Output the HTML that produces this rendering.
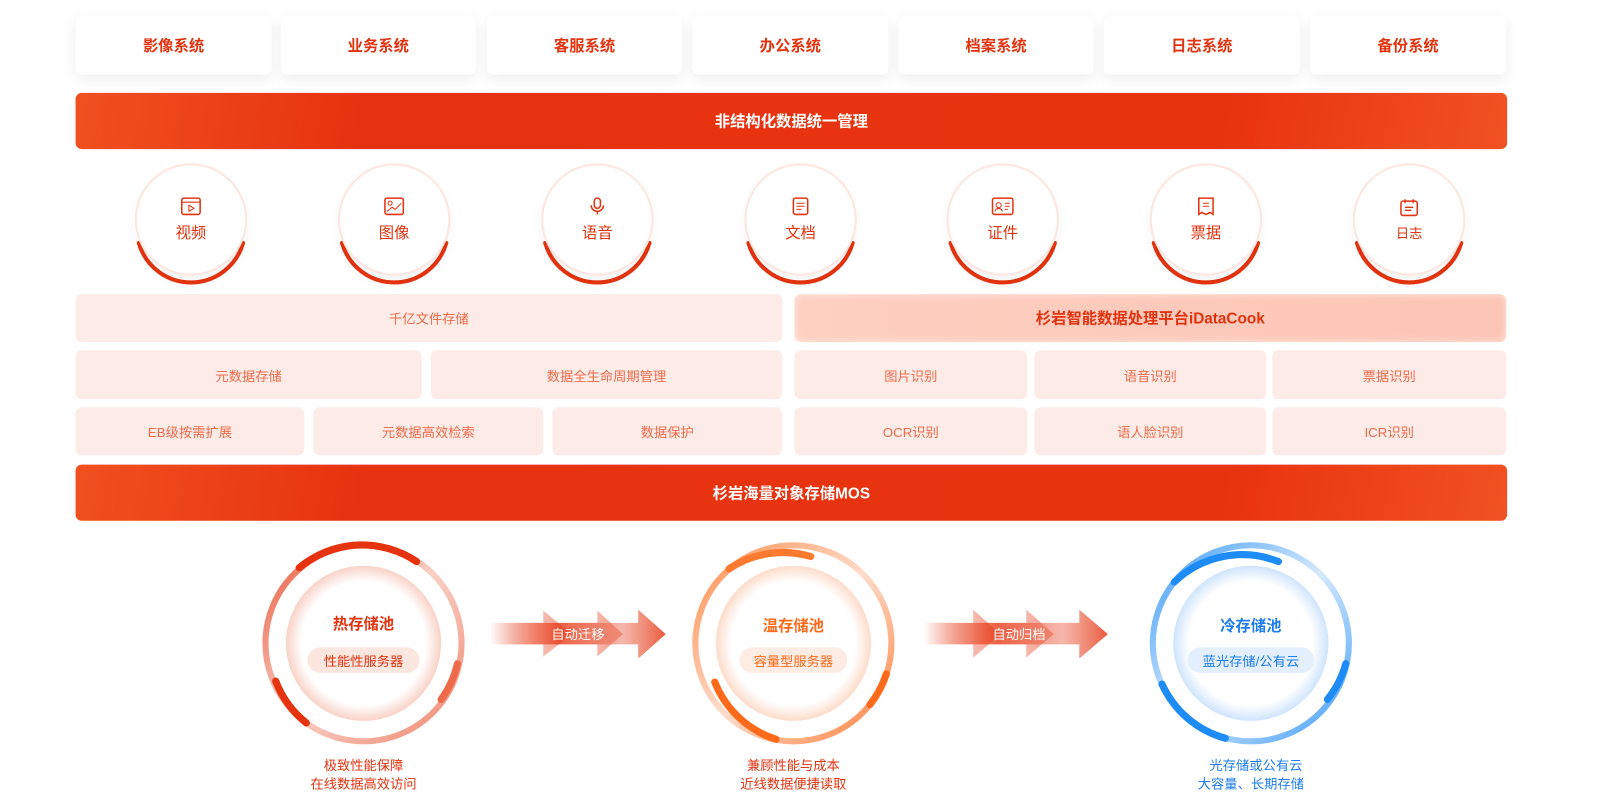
<!DOCTYPE html>
<html><head><meta charset="utf-8"><style>
*{margin:0;padding:0;box-sizing:border-box}
body{width:1601px;height:801px;background:#fff;position:relative;overflow:hidden;font-family:"Liberation Sans","Noto Sans CJK SC",sans-serif}
#w{position:absolute;left:0;top:0;width:1568px;height:785px;transform:scale(1.0211);transform-origin:0 0}
.a{position:absolute;display:flex;align-items:center;justify-content:center}
.top{top:16px;height:57px;background:#fff;border-radius:6px;box-shadow:0 4px 14px rgba(0,0,0,.07);color:#e2330f;font-size:15px;font-weight:bold}
.bar{left:74px;width:1402px;border-radius:6px;background:linear-gradient(100deg,#f0501f 0%,#e6330f 20%,#e8330f 80%,#f05222 100%);color:#fff;font-size:15px;font-weight:bold}
.c{width:106px;height:106px;border-radius:50%;background:#fff;box-shadow:0 0 0 2px #fde6df,0 6px 14px rgba(0,0,0,.06);flex-direction:column;color:#e2330f;font-size:15px;overflow:visible}
.p{background:#fcebe7;border-radius:6px;color:#f06b4a;font-size:13px}
</style></head><body><div id="w">
<div class="a top" style="left:74px;width:192px">影像系统</div>
<div class="a top" style="left:275px;width:191px">业务系统</div>
<div class="a top" style="left:477px;width:191px">客服系统</div>
<div class="a top" style="left:678px;width:192px">办公系统</div>
<div class="a top" style="left:880px;width:191px">档案系统</div>
<div class="a top" style="left:1081px;width:192px">日志系统</div>
<div class="a top" style="left:1283px;width:192px">备份系统</div>
<div class="a bar" style="top:91px;height:55px">非结构化数据统一管理</div>

<svg style="position:absolute;left:0;top:0" width="1568" height="785">
<g fill="none" stroke="#e6330f" stroke-width="4" stroke-linecap="round">
<path d="M136 238 A53 53 0 0 0 238 238"/><path d="M335 238 A53 53 0 0 0 437 238"/><path d="M534 238 A53 53 0 0 0 636 238"/><path d="M733 238 A53 53 0 0 0 835 238"/><path d="M931 238 A53 53 0 0 0 1033 238"/><path d="M1130 238 A53 53 0 0 0 1232 238"/><path d="M1329 238 A53 53 0 0 0 1431 238"/>
</g></svg>
<div class="a c" style="left:134px;top:162px"><svg width="20" height="18"><rect x="1" y="1" width="18" height="16" rx="2" fill="none" stroke="#e2330f" stroke-width="1.5"/><line x1="1" y1="5" x2="19" y2="5" stroke="#e2330f"/><path d="M8 8 L13 11 L8 14Z" fill="none" stroke="#e2330f"/></svg><div style="margin-top:6px">视频</div></div>
<div class="a c" style="left:333px;top:162px"><svg width="20" height="18"><rect x="1" y="1" width="18" height="16" rx="2" fill="none" stroke="#e2330f" stroke-width="1.5"/><circle cx="6" cy="6" r="2" fill="none" stroke="#e2330f"/><path d="M3 14 L8 10 L11 12 L17 6" fill="none" stroke="#e2330f"/></svg><div style="margin-top:6px">图像</div></div>
<div class="a c" style="left:532px;top:162px"><svg width="20" height="18"><rect x="7" y="1" width="6" height="10" rx="3" fill="none" stroke="#e2330f" stroke-width="1.5"/><path d="M4 8 A6 6 0 0 0 16 8 M10 14 V17" fill="none" stroke="#e2330f" stroke-width="1.5"/></svg><div style="margin-top:6px">语音</div></div>
<div class="a c" style="left:731px;top:162px"><svg width="20" height="18"><rect x="3" y="1" width="14" height="16" rx="2" fill="none" stroke="#e2330f" stroke-width="1.5"/><path d="M6 6H14M6 9H14M6 12H11" stroke="#e2330f"/></svg><div style="margin-top:6px">文档</div></div>
<div class="a c" style="left:929px;top:162px"><svg width="22" height="18"><rect x="1" y="1" width="20" height="16" rx="2" fill="none" stroke="#e2330f" stroke-width="1.5"/><circle cx="7" cy="8" r="2.5" fill="none" stroke="#e2330f"/><path d="M3.5 14 A3.5 3 0 0 1 10.5 14 M13 6H18M13 9H18M13 12H16" fill="none" stroke="#e2330f"/></svg><div style="margin-top:6px">证件</div></div>
<div class="a c" style="left:1128px;top:162px"><svg width="20" height="18"><path d="M3 1H17V17L14 15L10 17L6 15L3 17Z" fill="none" stroke="#e2330f" stroke-width="1.5"/><path d="M7 6H13M7 9H13" stroke="#e2330f"/></svg><div style="margin-top:6px">票据</div></div>
<div class="a c" style="left:1327px;top:162px;font-size:13px"><svg width="20" height="18"><rect x="2" y="3" width="16" height="14" rx="2" fill="none" stroke="#e2330f" stroke-width="1.5"/><path d="M6 1V5M14 1V5M6 9H14M6 12H12" stroke="#e2330f" stroke-width="1.3"/></svg><div style="margin-top:6px">日志</div></div>

<div class="a p" style="left:74px;top:288px;width:692px;height:47px">千亿文件存储</div>
<div class="a p" style="left:778px;top:288px;width:697px;height:47px;background:linear-gradient(90deg,#fdd0c2,#fcc5b5);color:#e2330f;font-size:15px;font-weight:bold;box-shadow:inset 0 0 8px rgba(255,255,255,.6)">杉岩智能数据处理平台iDataCook</div>
<div class="a p" style="left:74px;top:343px;width:339px;height:48px">元数据存储</div>
<div class="a p" style="left:422px;top:343px;width:344px;height:48px">数据全生命周期管理</div>
<div class="a p" style="left:74px;top:399px;width:224px;height:47px">EB级按需扩展</div>
<div class="a p" style="left:307px;top:399px;width:225px;height:47px">元数据高效检索</div>
<div class="a p" style="left:541px;top:399px;width:225px;height:47px">数据保护</div>
<div class="a p" style="left:778px;top:343px;width:228px;height:48px">图片识别</div>
<div class="a p" style="left:1013px;top:343px;width:227px;height:48px">语音识别</div>
<div class="a p" style="left:1246px;top:343px;width:229px;height:48px">票据识别</div>
<div class="a p" style="left:778px;top:399px;width:228px;height:47px">OCR识别</div>
<div class="a p" style="left:1013px;top:399px;width:227px;height:47px">语人脸识别</div>
<div class="a p" style="left:1246px;top:399px;width:229px;height:47px">ICR识别</div>
<div class="a bar" style="top:455px;height:55px">杉岩海量对象存储MOS</div>

<svg style="position:absolute;left:0;top:0" width="1568" height="785">
<defs>
<linearGradient id="gh" x1="0" y1="0" x2="1" y2="1"><stop offset="0" stop-color="#e6330f"/><stop offset=".5" stop-color="#f7c4b7"/><stop offset="1" stop-color="#ec6a4d"/></linearGradient>
<linearGradient id="gw" x1="0" y1="0" x2="1" y2="1"><stop offset="0" stop-color="#ff7a2e"/><stop offset=".5" stop-color="#ffd6c2"/><stop offset="1" stop-color="#ff6a1a"/></linearGradient>
<linearGradient id="gc" x1="0" y1="0" x2="1" y2="1"><stop offset="0" stop-color="#1e8cf7"/><stop offset=".5" stop-color="#cfe5fd"/><stop offset="1" stop-color="#1e8cf7"/></linearGradient>
<radialGradient id="ih"><stop offset=".8" stop-color="#fff"/><stop offset="1" stop-color="#f9d2c7"/></radialGradient>
<radialGradient id="iw"><stop offset=".8" stop-color="#fff"/><stop offset="1" stop-color="#fddccb"/></radialGradient>
<radialGradient id="ic"><stop offset=".8" stop-color="#fff"/><stop offset="1" stop-color="#cfe4fd"/></radialGradient>
<linearGradient id="ar" x1="0" x2="1"><stop offset="0" stop-color="#e6330f" stop-opacity="0"/><stop offset=".4" stop-color="#e6330f" stop-opacity=".8"/><stop offset=".75" stop-color="#ec7a63" stop-opacity=".6"/><stop offset="1" stop-color="#e6330f" stop-opacity=".9"/></linearGradient>
<linearGradient id="ar2" x1="0" x2="1"><stop offset="0" stop-color="#e6330f" stop-opacity="0"/><stop offset=".35" stop-color="#e6330f" stop-opacity=".2"/><stop offset="1" stop-color="#e6330f" stop-opacity=".5"/></linearGradient>
</defs>
<g>
<circle cx="356" cy="630" r="96" fill="none" stroke="url(#gh)" stroke-width="6" opacity=".8"/>
<path d="M293 556 A96 96 0 0 1 408 550" fill="none" stroke="#e6330f" stroke-width="7" stroke-linecap="round"/>
<path d="M270 667 A96 96 0 0 0 300 708" fill="none" stroke="#e6330f" stroke-width="7" stroke-linecap="round"/>
<path d="M448 650 A96 96 0 0 1 432 685" fill="none" stroke="#ee6a4a" stroke-width="7" stroke-linecap="round"/>
<circle cx="356" cy="630" r="76" fill="url(#ih)"/>
<circle cx="777" cy="630" r="96" fill="none" stroke="url(#gw)" stroke-width="6" opacity=".85"/>
<path d="M714 557 A96 96 0 0 1 794 545" fill="none" stroke="#ff7a2e" stroke-width="7" stroke-linecap="round"/>
<path d="M700 668 A96 96 0 0 0 760 724" fill="none" stroke="#ff6a1a" stroke-width="7" stroke-linecap="round"/>
<path d="M868 660 A96 96 0 0 1 852 690" fill="none" stroke="#ff6a1a" stroke-width="7" stroke-linecap="round"/>
<circle cx="777" cy="630" r="76" fill="url(#iw)"/>
<circle cx="1225" cy="630" r="96" fill="none" stroke="url(#gc)" stroke-width="6" opacity=".85"/>
<path d="M1150 570 A96 96 0 0 1 1252 550" fill="none" stroke="#1e8cf7" stroke-width="7" stroke-linecap="round"/>
<path d="M1138 670 A96 96 0 0 0 1200 723" fill="none" stroke="#1e8cf7" stroke-width="7" stroke-linecap="round"/>
<path d="M1318 650 A96 96 0 0 1 1300 685" fill="none" stroke="#1e8cf7" stroke-width="7" stroke-linecap="round"/>
<circle cx="1225" cy="630" r="76" fill="url(#ic)"/>
</g>
<g>
<path d="M480 610 H532 V598 L560 621 L532 643 V631 H480Z" fill="url(#ar2)"/>
<path d="M530 610 H585 V598 L610 621 L585 643 V631 H530Z" fill="url(#ar2)"/>
<path d="M480 610 H625 V597 L652 621 L625 645 V631 H480Z" fill="url(#ar)" opacity=".9"/>
<path d="M905 610 H953 V597 L980 621 L953 644 V631 H905Z" fill="url(#ar2)"/>
<path d="M950 610 H1005 V597 L1032 621 L1005 644 V631 H950Z" fill="url(#ar2)"/>
<path d="M905 610 H1057 V597 L1085 621 L1057 645 V631 H905Z" fill="url(#ar)" opacity=".9"/>
</g>
<g font-family="Liberation Sans, Noto Sans CJK SC, sans-serif" text-anchor="middle">
<text x="566" y="626" fill="#fff" font-size="13">自动迁移</text>
<text x="998" y="626" fill="#fff" font-size="13">自动归档</text>
<text x="356" y="616" fill="#e2330f" font-size="15" font-weight="bold">热存储池</text>
<rect x="301" y="634" width="110" height="25" rx="12.5" fill="#fce6e0"/>
<text x="356" y="652" fill="#e2330f" font-size="13">性能性服务器</text>
<text x="777" y="618" fill="#ff6a1a" font-size="15" font-weight="bold">温存储池</text>
<rect x="724" y="634" width="106" height="25" rx="12.5" fill="#fdece3"/>
<text x="777" y="652" fill="#ff6a1a" font-size="13">容量型服务器</text>
<text x="1225" y="618" fill="#1e7ef0" font-size="15" font-weight="bold">冷存储池</text>
<rect x="1163" y="634" width="124" height="25" rx="12.5" fill="#e3effd"/>
<text x="1225" y="652" fill="#1e7ef0" font-size="13">蓝光存储/公有云</text>
<text x="356" y="754" fill="#e2330f" font-size="13">极致性能保障</text>
<text x="356" y="772" fill="#e2330f" font-size="13">在线数据高效访问</text>
<text x="777" y="754" fill="#e2330f" font-size="13">兼顾性能与成本</text>
<text x="777" y="772" fill="#e2330f" font-size="13">近线数据便捷读取</text>
<text x="1230" y="754" fill="#1e7ef0" font-size="13">光存储或公有云</text>
<text x="1225" y="772" fill="#1e7ef0" font-size="13">大容量、长期存储</text>
</g>
</svg>
</div></body></html>
